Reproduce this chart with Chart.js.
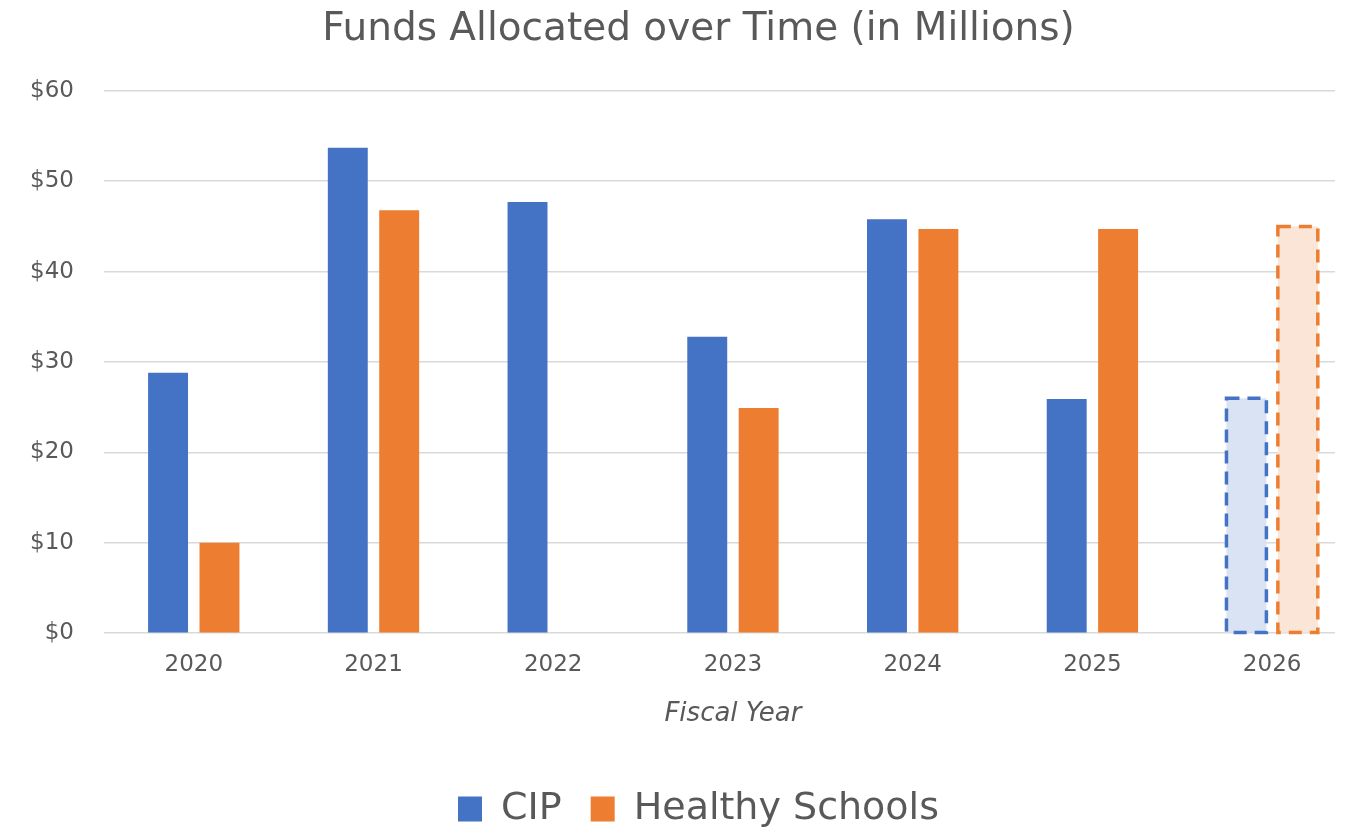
<!DOCTYPE html>
<html>
<head>
<meta charset="utf-8">
<script src="https://cdn.jsdelivr.net/npm/chart.js@4"></script>
<style>
  html, body { margin: 0; padding: 0; background: #fff; }
  #wrap { width: 1347px; height: 827px; }
</style>
</head>
<body>
<div id="wrap"><canvas id="fundsChart"></canvas></div>
<script>
// -----------------------------
// Data
// -----------------------------
const years = ["2020", "2021", "2022", "2023", "2024", "2025", "2026"];
const cipFunds = [28.8, 53.7, 47.7, 32.8, 45.8, 25.9, 26.0];
const healthyFunds = [10.0, 46.8, null, 24.9, 44.7, 44.7, 45.0];
const yTickMax = 60;
const yTickStep = 10;
const projectedYear = "2026";

const blue = "#4472C4";
const orange = "#ED7D31";
const blueLight = "#DAE3F3";
const orangeLight = "#FBE5D6";
const textColor = "#595959";
const font = "DejaVu Sans";

// couleurs par barre : l'année projetée est claire avec bord pointillé
function fills(solid, light) {
    return years.map(y => y === projectedYear ? light : solid);
}

// -----------------------------
// Plugin : bord pointillé (année projetée)
// -----------------------------
const dashedProjection = {
    id: "dashedProjection",
    afterDatasetsDraw(chart) {
        const ctx = chart.ctx;
        const idx = years.indexOf(projectedYear);
        chart.data.datasets.forEach((ds, i) => {
            const bar = chart.getDatasetMeta(i).data[idx];
            if (!bar || ds.data[idx] == null) return;
            const p = bar.getProps(["x", "y", "base", "width"], true);
            ctx.save();
            ctx.strokeStyle = ds.dashColor;
            ctx.lineWidth = 3.5;
            ctx.setLineDash([13, 8]);
            ctx.strokeRect(p.x - p.width / 2, p.y, p.width, p.base - p.y);
            ctx.restore();
        });
    }
};

// -----------------------------
// Plugin : mise en page (axe x un peu plus large que la grille,
// titre + légende centrés un peu à droite)
// -----------------------------
const layoutTweak = {
    id: "layoutTweak",
    afterLayout(chart) {
        const x = chart.scales.x;
        x.right += 27;
        x.width += 27;
        x.configure();

        const lg = chart.legend;
        if (lg) {
            lg.left += 31; lg.right += 31;
            lg.top += 11; lg.bottom += 11;
        }
        const tb = chart.titleBlock;
        if (tb) {
            tb.left += 31; tb.right += 31;
        }
    }
};

new Chart(document.getElementById("fundsChart"), {
    type: "bar",
    data: {
        labels: years,
        datasets: [
            {
                label: "CIP",
                data: cipFunds,
                backgroundColor: fills(blue, blueLight),
                dashColor: blue,
                borderWidth: 0
            },
            {
                label: "Healthy Schools",
                data: healthyFunds,
                backgroundColor: fills(orange, orangeLight),
                dashColor: orange,
                borderWidth: 0
            }
        ]
    },
    options: {
        responsive: true,
        maintainAspectRatio: false,
        animation: false,
        categoryPercentage: 0.572,
        barPercentage: 0.777,
        layout: { padding: { left: 0, right: 12, top: 4, bottom: 0 } },
        plugins: {
            title: {
                display: true,
                text: "Funds Allocated over Time (in Millions)",
                color: textColor,
                font: { family: font, size: 39, weight: "normal" },
                padding: { top: 2, bottom: 38 }
            },
            legend: {
                position: "bottom",
                labels: {
                    color: textColor,
                    font: { family: font, size: 38 },
                    boxWidth: 24,
                    boxHeight: 25,
                    padding: 29
                }
            },
            tooltip: { enabled: false }
        },
        scales: {
            x: {
                grid: { display: false },
                border: { display: false },
                ticks: { color: textColor, font: { family: font, size: 23 }, padding: 10 },
                title: {
                    display: true,
                    text: "Fiscal Year",
                    color: textColor,
                    font: { family: font, size: 26, style: "italic" },
                    padding: { top: 10, bottom: 20 }
                }
            },
            y: {
                min: 0,
                max: yTickMax,
                grid: { color: "#D9D9D9", lineWidth: 1.5, drawTicks: false },
                border: { display: false },
                ticks: {
                    stepSize: yTickStep,
                    color: textColor,
                    font: { family: font, size: 23 },
                    padding: 30,
                    callback: v => "$" + v
                }
            }
        }
    },
    plugins: [dashedProjection, layoutTweak]
});
</script>
</body>
</html>
